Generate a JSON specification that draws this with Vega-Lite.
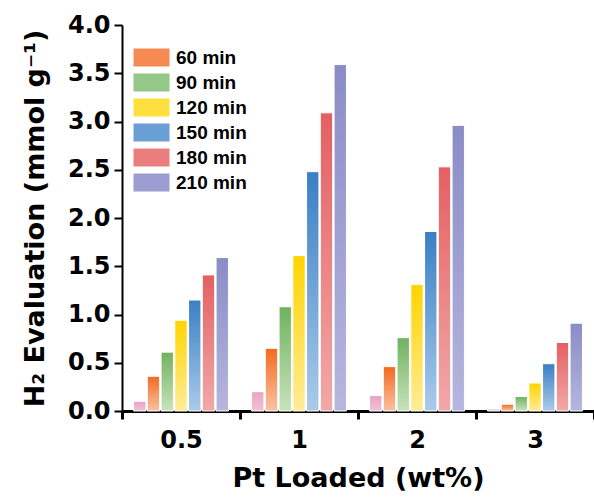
{
  "$schema": "https://vega.github.io/schema/vega-lite/v6.json",
  "width": 472,
  "height": 386,
  "autosize": "none",
  "padding": {"left": 122, "top": 25, "right": 0, "bottom": 88},
  "config": {"view": {"stroke": null}, "font": "DejaVu Sans"},
  "data": {
    "values": [
      {"pt": "0.5", "t": "30 min", "v": 0.10},
      {"pt": "0.5", "t": "60 min", "v": 0.36},
      {"pt": "0.5", "t": "90 min", "v": 0.61},
      {"pt": "0.5", "t": "120 min", "v": 0.94},
      {"pt": "0.5", "t": "150 min", "v": 1.15},
      {"pt": "0.5", "t": "180 min", "v": 1.41},
      {"pt": "0.5", "t": "210 min", "v": 1.59},
      {"pt": "1", "t": "30 min", "v": 0.20},
      {"pt": "1", "t": "60 min", "v": 0.65},
      {"pt": "1", "t": "90 min", "v": 1.08},
      {"pt": "1", "t": "120 min", "v": 1.61},
      {"pt": "1", "t": "150 min", "v": 2.48},
      {"pt": "1", "t": "180 min", "v": 3.09},
      {"pt": "1", "t": "210 min", "v": 3.59},
      {"pt": "2", "t": "30 min", "v": 0.16},
      {"pt": "2", "t": "60 min", "v": 0.46},
      {"pt": "2", "t": "90 min", "v": 0.76},
      {"pt": "2", "t": "120 min", "v": 1.31},
      {"pt": "2", "t": "150 min", "v": 1.86},
      {"pt": "2", "t": "180 min", "v": 2.53},
      {"pt": "2", "t": "210 min", "v": 2.96},
      {"pt": "3", "t": "30 min", "v": 0.02},
      {"pt": "3", "t": "60 min", "v": 0.07},
      {"pt": "3", "t": "90 min", "v": 0.15},
      {"pt": "3", "t": "120 min", "v": 0.29},
      {"pt": "3", "t": "150 min", "v": 0.49},
      {"pt": "3", "t": "180 min", "v": 0.71},
      {"pt": "3", "t": "210 min", "v": 0.91}
    ]
  },
  "mark": {"type": "bar", "stroke": "white", "strokeWidth": 1},
  "encoding": {
    "x": {
      "field": "pt", "type": "nominal", "sort": ["0.5", "1", "2", "3"],
      "scale": {"paddingInner": 0, "paddingOuter": 0},
      "axis": {
        "title": "Pt Loaded (wt%)", "labelAngle": 0, "tickBand": "extent",
        "domainColor": "black", "domainWidth": 3, "tickColor": "black", "tickWidth": 3, "tickSize": 8,
        "labelFont": "DejaVu Sans", "labelFontSize": 24, "labelFontWeight": "bold", "labelColor": "black", "labelPadding": 9,
        "titleFont": "DejaVu Sans", "titleFontSize": 27, "titleFontWeight": "bold", "titleColor": "black", "titlePadding": 13
      }
    },
    "xOffset": {
      "field": "t", "type": "nominal",
      "sort": ["30 min", "60 min", "90 min", "120 min", "150 min", "180 min", "210 min"],
      "scale": {"paddingInner": 0.1, "paddingOuter": 0.84}
    },
    "y": {
      "field": "v", "type": "quantitative",
      "scale": {"domain": [0, 4], "nice": false},
      "axis": {
        "title": "H₂ Evaluation (mmol g⁻¹)", "values": [0, 0.5, 1, 1.5, 2, 2.5, 3, 3.5, 4], "format": ".1f",
        "grid": false, "domainColor": "black", "domainWidth": 2, "tickColor": "black", "tickWidth": 2, "tickSize": 8,
        "labelFont": "DejaVu Sans", "labelFontSize": 24, "labelFontWeight": "bold", "labelColor": "black", "labelPadding": 4,
        "titleFont": "DejaVu Sans", "titleFontSize": 27, "titleFontWeight": "bold", "titleColor": "black", "titlePadding": 18
      }
    },
    "fill": {
      "field": "t", "type": "nominal",
      "scale": {
        "domain": ["30 min", "60 min", "90 min", "120 min", "150 min", "180 min", "210 min"],
        "range": ["#eeb2cd", "#f58a52", "#94c886", "#ffdf3e", "#6a9fd5", "#ea7d7e", "#9c9dd0"]
      },
      "condition": [
        {"test": "datum.t === '30 min'", "value": {"gradient": "linear", "x1": 0, "y1": 0, "x2": 0, "y2": 1, "stops": [{"offset": 0, "color": "#e9a1c3"}, {"offset": 1, "color": "#f2c2d8"}]}},
        {"test": "datum.t === '60 min'", "value": {"gradient": "linear", "x1": 0, "y1": 0, "x2": 0, "y2": 1, "stops": [{"offset": 0, "color": "#f26a20"}, {"offset": 1, "color": "#fbc2a2"}]}},
        {"test": "datum.t === '90 min'", "value": {"gradient": "linear", "x1": 0, "y1": 0, "x2": 0, "y2": 1, "stops": [{"offset": 0, "color": "#6fb25f"}, {"offset": 1, "color": "#c8e3bc"}]}},
        {"test": "datum.t === '120 min'", "value": {"gradient": "linear", "x1": 0, "y1": 0, "x2": 0, "y2": 1, "stops": [{"offset": 0, "color": "#ffd400"}, {"offset": 1, "color": "#ffec98"}]}},
        {"test": "datum.t === '150 min'", "value": {"gradient": "linear", "x1": 0, "y1": 0, "x2": 0, "y2": 1, "stops": [{"offset": 0, "color": "#3a7fc4"}, {"offset": 1, "color": "#aacbea"}]}},
        {"test": "datum.t === '180 min'", "value": {"gradient": "linear", "x1": 0, "y1": 0, "x2": 0, "y2": 1, "stops": [{"offset": 0, "color": "#e46062"}, {"offset": 1, "color": "#f2a8a8"}]}},
        {"test": "datum.t === '210 min'", "value": {"gradient": "linear", "x1": 0, "y1": 0, "x2": 0, "y2": 1, "stops": [{"offset": 0, "color": "#8a8cc6"}, {"offset": 1, "color": "#b6b6de"}]}}
      ],
      "legend": {
        "values": ["60 min", "90 min", "120 min", "150 min", "180 min", "210 min"],
        "title": null, "orient": "none", "legendX": 20, "legendY": 23,
        "symbolType": "M-2,-1H2V1H-2Z", "symbolSize": 324, "symbolStrokeWidth": 0,
        "labelFont": "Liberation Sans", "labelFontSize": 19, "labelFontWeight": "bold", "labelColor": "black", "labelOffset": 15,
        "rowPadding": 5, "padding": 0
      }
    }
  }
}
